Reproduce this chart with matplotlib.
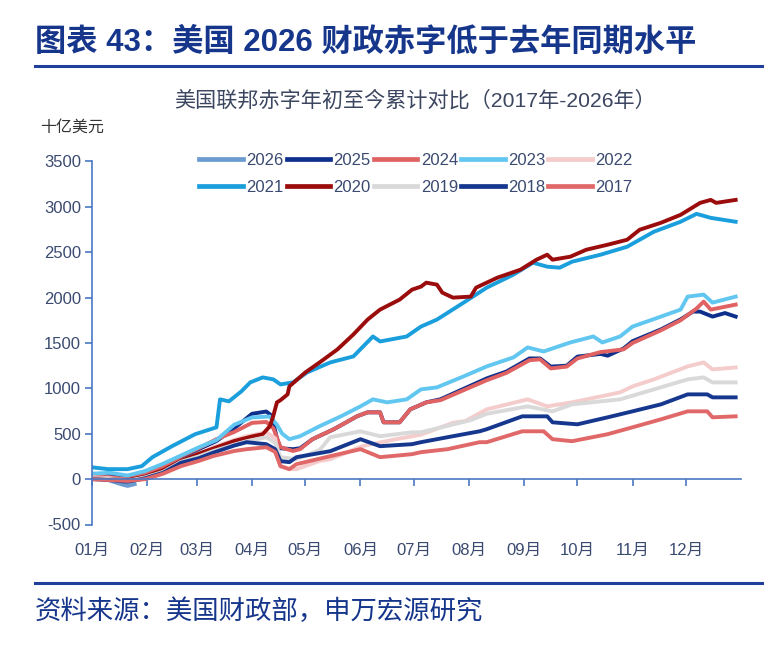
import matplotlib
matplotlib.use("Agg")
import matplotlib.pyplot as plt
from matplotlib.lines import Line2D

plt.rcParams['font.family'] = ['Liberation Sans', 'Noto Sans CJK SC', 'DejaVu Sans']

# ---------------- data (day of year, cumulative deficit, bn USD) ----------------
years = ["2026", "2025", "2024", "2023", "2022", "2021", "2020", "2019", "2018", "2017"]
colors = ["#6b9bd0", "#0f2f8c", "#e06262", "#62c7f0", "#f4cccc",
          "#1b9fdc", "#9b0d0d", "#d9d9d9", "#16378e", "#e06868"]

x_2026 = [0, 4, 9, 13, 17, 20, 24]
y_2026 = [20, 5, -10, -35, -60, -75, -55]

x_2025 = [0, 10, 20, 30, 40, 50, 60, 70, 80, 90, 98, 101, 104, 106, 113, 117, 124, 136, 143, 149,
          155, 162, 164, 173, 179, 188, 196, 209, 222, 233, 246, 252, 258, 267, 273, 286, 290, 299,
          304, 320, 331, 338, 342, 349, 356, 362]
y_2025 = [50, 60, 30, 80, 150, 240, 330, 420, 560, 720, 745, 700, 450, 340, 330, 340, 440, 550, 626, 692,
          736, 736, 626, 626, 769, 846, 880, 995, 1110, 1185, 1330, 1330, 1240, 1250, 1350, 1380, 1360, 1440,
          1520, 1650, 1760, 1846, 1846, 1791, 1830, 1791]

x_2024 = [0, 10, 20, 30, 40, 50, 60, 70, 80, 90, 98, 102, 106, 113, 117, 124, 136, 143, 149,
          155, 162, 164, 173, 179, 188, 196, 209, 222, 233, 246, 252, 258, 267, 273, 286, 299,
          304, 320, 331, 340, 344, 348, 362]
y_2024 = [30, 20, 0, 50, 130, 250, 340, 440, 520, 620, 630, 560, 352, 310, 330, 440, 550, 626, 692,
          736, 736, 626, 626, 769, 846, 870, 980, 1090, 1170, 1310, 1320, 1220, 1240, 1330, 1400, 1430,
          1500, 1640, 1750, 1880, 1956, 1868, 1923]

x_2023 = [0, 10, 20, 30, 40, 50, 60, 70, 80, 90, 100, 104, 107, 111, 117, 128, 140, 151, 158, 166,
          177, 185, 194, 209, 222, 237, 245, 254, 269, 282, 287, 297, 304, 320, 331, 335, 344, 349, 362]
y_2023 = [60, 70, 40, 90, 170, 260, 350, 430, 600, 680, 690, 600, 500, 440, 473, 583, 692, 802, 879, 846,
          879, 989, 1011, 1132, 1242, 1341, 1451, 1407, 1506, 1572, 1506, 1572, 1681, 1791, 1868, 2011, 2033,
          1945, 2011]

x_2022 = [0, 10, 20, 30, 40, 50, 60, 68, 80, 87, 98, 103, 106, 111, 115, 128, 134, 152, 171, 185,
          203, 210, 222, 245, 256, 270, 297, 304, 316, 335, 344, 349, 362]
y_2022 = [20, 10, -10, 30, 100, 200, 270, 352, 430, 473, 516, 450, 143, 110, 110, 200, 220, 363, 440, 490,
          620, 640, 769, 879, 802, 846, 956, 1022, 1099, 1242, 1286, 1209, 1231]

x_2021 = [0, 9, 20, 28, 34, 45, 58, 70, 72, 77, 84, 89, 96, 102, 106, 113, 121, 134, 147, 158,
          162, 177, 185, 194, 209, 222, 237, 248, 256, 263, 270, 286, 301, 316, 331, 340, 348, 362]
y_2021 = [130, 110, 110, 143, 242, 363, 495, 571, 879, 857, 967, 1066, 1121, 1099, 1044, 1066, 1176, 1286, 1352, 1572,
          1517, 1572, 1681, 1758, 1945, 2110, 2253, 2385, 2341, 2330, 2396, 2473, 2561, 2726, 2836, 2923, 2879, 2836]

x_2020 = [0, 10, 20, 30, 40, 50, 60, 70, 80, 90, 96, 100, 102, 104, 106, 110, 111, 120, 128, 138,
          147, 155, 162, 173, 180, 185, 188, 194, 197, 203, 213, 216, 228, 241, 250, 256, 259, 269,
          278, 290, 301, 308, 320, 331, 342, 348, 351, 362]
y_2020 = [10, 0, -10, 30, 100, 200, 280, 350, 420, 470, 495, 583, 700, 846, 870, 934, 1022, 1176, 1286, 1429,
          1594, 1758, 1868, 1978, 2088, 2121, 2165, 2143, 2055, 2000, 2011, 2110, 2220, 2308, 2418, 2473, 2418, 2451,
          2528, 2583, 2638, 2748, 2825, 2912, 3044, 3077, 3044, 3077]

x_2019 = [0, 10, 20, 30, 40, 50, 60, 68, 80, 87, 98, 103, 106, 115, 128, 134, 151, 162, 180, 185,
          199, 213, 222, 245, 259, 270, 297, 316, 335, 344, 349, 362]
y_2019 = [10, 0, -20, 20, 80, 190, 250, 308, 380, 418, 462, 400, 242, 220, 320, 462, 527, 473, 516, 516,
          583, 650, 720, 802, 747, 824, 879, 989, 1099, 1121, 1066, 1066]

x_2018 = [0, 10, 20, 30, 40, 50, 60, 68, 80, 87, 98, 103, 106, 111, 115, 134, 151, 162, 180, 185,
          200, 218, 222, 242, 256, 259, 273, 290, 304, 320, 335, 346, 349, 362]
y_2018 = [0, -10, -30, 10, 70, 180, 230, 290, 370, 407, 385, 330, 198, 187, 242, 308, 440, 363, 385, 407,
          462, 527, 550, 692, 692, 626, 604, 681, 747, 824, 934, 934, 901, 901]

x_2017 = [0, 10, 20, 30, 40, 50, 60, 68, 80, 87, 98, 103, 106, 111, 115, 134, 151, 162, 180, 185,
          200, 218, 222, 242, 254, 259, 270, 290, 304, 320, 335, 346, 349, 362]
y_2017 = [0, -10, -20, 0, 60, 143, 200, 253, 310, 330, 352, 300, 143, 110, 165, 253, 330, 242, 275, 297,
          330, 407, 407, 527, 527, 440, 418, 495, 571, 659, 747, 747, 681, 692]

series_x = [x_2026, x_2025, x_2024, x_2023, x_2022, x_2021, x_2020, x_2019, x_2018, x_2017]
series_y = [y_2026, y_2025, y_2024, y_2023, y_2022, y_2021, y_2020, y_2019, y_2018, y_2017]

month_days = [0, 31, 59, 90, 120, 151, 181, 212, 243, 273, 304, 334]
month_labels = ["01月", "02月", "03月", "04月", "05月", "06月", "07月", "08月", "09月", "10月", "11月", "12月"]
y_ticks = [-500, 0, 500, 1000, 1500, 2000, 2500, 3000, 3500]

# ---------------- figure ----------------
W, H = 780, 648
fig = plt.figure(figsize=(W / 100, H / 100), dpi=100)
navy = "#16368c"
tick_col = "#3a4a70"
axis_col = "#4a78c2"

ax = fig.add_axes([92 / W, 1 - 524.5 / H, (741 - 92) / W, (524.5 - 161.5) / H])
handles = []
for yr, c, xs, ys in zip(years, colors, series_x, series_y):
    ln, = ax.plot(xs, ys, color=c, lw=2.8, solid_joinstyle='round', label=yr)
    handles.append(ln)

ax.set_xlim(0, 365)
ax.set_ylim(-500, 3500)
for s in ['top', 'right']:
    ax.spines[s].set_visible(False)
ax.spines['left'].set_color(axis_col)
ax.spines['left'].set_linewidth(1.2)
ax.spines['bottom'].set_position(('data', 0))
ax.spines['bottom'].set_color(axis_col)
ax.spines['bottom'].set_linewidth(1.2)
ax.set_yticks(y_ticks)
ax.set_yticklabels([str(v) for v in y_ticks])
ax.tick_params(axis='y', direction='out', length=5, width=1.2, color=axis_col,
               labelcolor=tick_col, labelsize=12, pad=3)
ax.set_xticks(month_days)
ax.tick_params(axis='x', direction='out', length=5, width=1.2, color=axis_col, labelbottom=False)

sec = ax.secondary_xaxis('bottom')
sec.set_xticks(month_days)
sec.set_xticklabels(month_labels)
sec.spines['bottom'].set_visible(False)
sec.tick_params(axis='x', length=0, labelcolor=tick_col, labelsize=12, pad=13)

# legend filled row by row (matplotlib fills columns first)
order = [0, 5, 1, 6, 2, 7, 3, 8, 4, 9]
leg = fig.legend(handles=[handles[i] for i in order], labels=[years[i] for i in order], ncol=5,
                 loc='center', bbox_to_anchor=(416 / W, 1 - 174 / H), frameon=False, fontsize=12,
                 handlelength=2.6, handletextpad=0.2, columnspacing=0.2, labelspacing=0.75)
for t in leg.get_texts():
    t.set_color(tick_col)
for l in leg.get_lines():
    l.set_linewidth(3.4)

# ---------------- texts ----------------
fig.text(35 / W, 1 - 43 / H, "图表 43：美国 2026 财政赤字低于去年同期水平", ha='left', va='center',
         fontsize=22.5, fontweight='bold', color=navy)
fig.add_artist(Line2D([35 / W, 762 / W], [1 - 66 / H, 1 - 66 / H], color="#1f3f9a", lw=2.2))
fig.text(415 / W, 1 - 100 / H, "美国联邦赤字年初至今累计对比（2017年-2026年）", ha='center', va='center',
         fontsize=15.2, color="#3c4660")
fig.text(40 / W, 1 - 127 / H, "十亿美元", ha='left', va='center', fontsize=11.5, color="#333333")
fig.add_artist(Line2D([35 / W, 762 / W], [1 - 583 / H, 1 - 583 / H], color="#1f3f9a", lw=2.2))
fig.text(35 / W, 1 - 611 / H, "资料来源：美国财政部，申万宏源研究", ha='left', va='center',
         fontsize=19, color=navy)

fig.savefig("out.png", dpi=100, facecolor='white')
